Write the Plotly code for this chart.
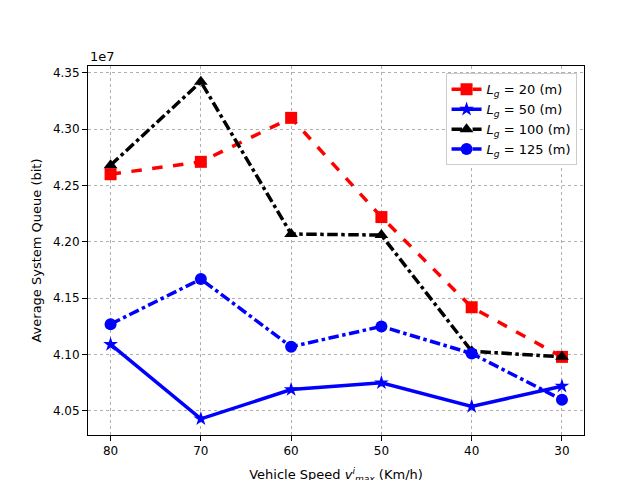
import plotly.graph_objects as go

speeds = [80, 70, 60, 50, 40, 30]
# average system queue, in units of 1e7 bit
q_lg20 = [4.260, 4.271, 4.310, 4.222, 4.142, 4.098]
q_lg50 = [4.109, 4.043, 4.069, 4.075, 4.054, 4.072]
q_lg100 = [4.268, 4.342, 4.207, 4.206, 4.103, 4.098]
q_lg125 = [4.127, 4.167, 4.107, 4.125, 4.101, 4.060]

series = [
    ("<i>L<sub>g</sub></i> = 20 (m)", q_lg20, "red", "dash", "square"),
    ("<i>L<sub>g</sub></i> = 50 (m)", q_lg50, "blue", "solid", "star"),
    ("<i>L<sub>g</sub></i> = 100 (m)", q_lg100, "black", "dashdot", "triangle-up"),
    ("<i>L<sub>g</sub></i> = 125 (m)", q_lg125, "blue", "dashdot", "circle"),
]

fig = go.Figure()
for name, ys, col, dash, sym in series:
    fig.add_trace(go.Scatter(
        x=speeds, y=ys, name=name, mode="lines+markers",
        line=dict(color=col, width=3.5, dash=dash),
        marker=dict(symbol=sym, size=12 if sym != "star" else 11, color=col),
    ))

axis_common = dict(showgrid=True, gridcolor="#b0b0b0", griddash="3px,3px", gridwidth=1,
                   showline=True, linecolor="black", mirror=True, ticks="outside",
                   tickcolor="black", zeroline=False, automargin=False,
                   tickfont=dict(size=12, color="black"))

fig.update_xaxes(range=[82.5, 27.56], tickvals=speeds,
                 title=dict(text="Vehicle Speed <i>v<sup>i</sup><sub>max</sub></i> (Km/h)",
                            font=dict(size=13, color="black"), standoff=12), **axis_common)
fig.update_yaxes(range=[4.0287, 4.356], tickvals=[4.05, 4.10, 4.15, 4.20, 4.25, 4.30, 4.35],
                 tickformat=".2f",
                 title=dict(text="Average System Queue (bit)", font=dict(size=13, color="black"),
                            standoff=8),
                 **axis_common)

fig.add_annotation(text="1e7", xref="paper", yref="paper", x=0, y=1.0,
                   xanchor="left", yanchor="bottom", showarrow=False,
                   font=dict(size=13, color="black"))

fig.update_layout(
    width=640, height=480,
    margin=dict(l=80, r=64, t=58, b=53),
    plot_bgcolor="white", paper_bgcolor="white",
    font=dict(family="DejaVu Sans"),
    legend=dict(x=0.985, y=0.98, xanchor="right", yanchor="top",
                bgcolor="white", bordercolor="#cccccc", borderwidth=1,
                font=dict(size=13, color="black")),
)

fig.write_html("out.html")
